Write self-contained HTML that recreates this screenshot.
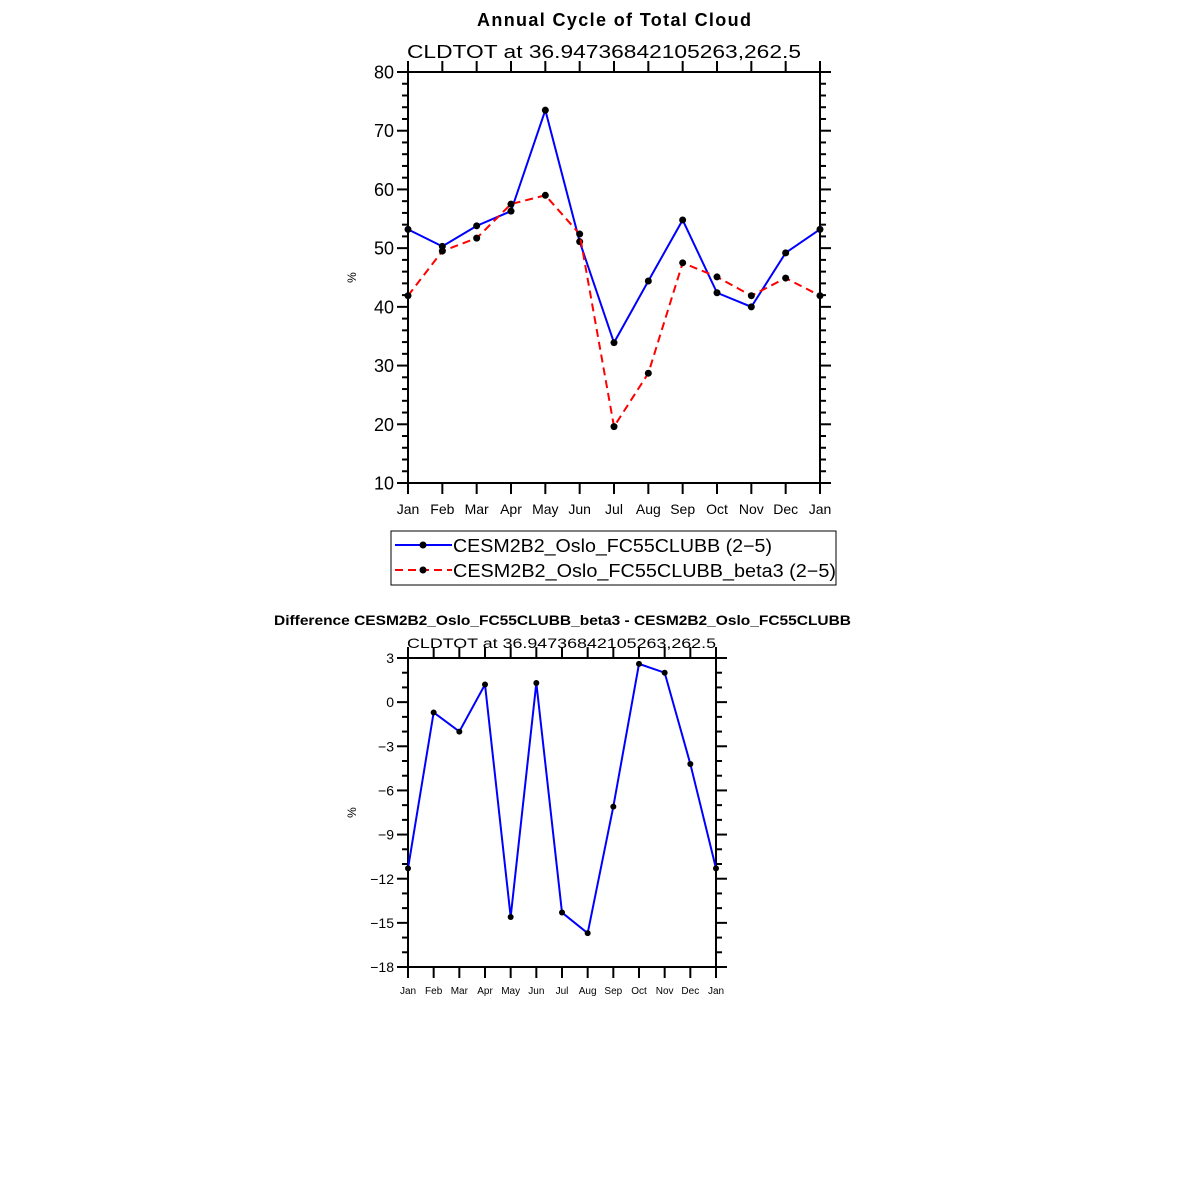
<!DOCTYPE html>
<html><head><meta charset="utf-8"><style>
body{margin:0;background:#fff;width:1183px;height:1183px;overflow:hidden}
svg{display:block}
text{font-family:"Liberation Sans","DejaVu Sans",sans-serif;fill:#000}
</style></head><body>
<svg id="s" width="1183" height="1183">
<text x="614" y="26" font-size="18" font-weight="bold" text-anchor="middle" textLength="274">Annual Cycle of Total Cloud</text>
<text x="407" y="58" font-size="18" textLength="394" lengthAdjust="spacingAndGlyphs">CLDTOT  at  36.94736842105263,262.5</text>
<text x="274" y="625" font-size="14" font-weight="bold" textLength="577" lengthAdjust="spacingAndGlyphs">Difference CESM2B2_Oslo_FC55CLUBB_beta3 - CESM2B2_Oslo_FC55CLUBB</text>
<text x="407" y="648" font-size="14" textLength="309" lengthAdjust="spacingAndGlyphs">CLDTOT  at  36.94736842105263,262.5</text>
<g>
<rect x="391" y="531" width="445" height="54" fill="#fff" stroke="#000" stroke-width="1"/>
<line x1="395" y1="545" x2="452" y2="545" stroke="#0000ff" stroke-width="2"/>
<circle cx="423" cy="545" r="3.5" fill="#000"/>
<text x="453" y="552" font-size="18" textLength="319" lengthAdjust="spacingAndGlyphs">CESM2B2_Oslo_FC55CLUBB (2−5)</text>
<line x1="395" y1="570" x2="452" y2="570" stroke="#ff0000" stroke-width="2" stroke-dasharray="8,5"/>
<circle cx="423" cy="570" r="3.5" fill="#000"/>
<text x="453" y="577" font-size="18" textLength="383" lengthAdjust="spacingAndGlyphs">CESM2B2_Oslo_FC55CLUBB_beta3 (2−5)</text>
</g>
</svg>
<script>
const months=["Jan","Feb","Mar","Apr","May","Jun","Jul","Aug","Sep","Oct","Nov","Dec","Jan"];
const baseVals=[53.2,50.3,53.8,56.3,73.5,51.1,33.9,44.4,54.8,42.4,40.0,49.2,53.2];
const beta3Vals=[41.9,49.5,51.7,57.5,59.0,52.4,19.6,28.7,47.5,45.1,41.9,44.9,41.9];
const diffVals=[-11.3,-0.7,-2.0,1.2,-14.6,1.3,-14.3,-15.7,-7.1,2.6,2.0,-4.2,-11.3];
const topTicks=[10,20,30,40,50,60,70,80];
const botTicks=[-18,-15,-12,-9,-6,-3,0,3];
const NS="http://www.w3.org/2000/svg",svg=document.getElementById('s');
function mk(t,a,p){const e=document.createElementNS(NS,t);for(const k in a)e.setAttribute(k,a[k]);(p||svg).appendChild(e);return e;}
function panel(o){
  const g=mk('g',{});
  
  
  const xs=i=>o.x0+(o.x1-o.x0)*i/(months.length-1);
  const ys=v=>o.y1-(v-o.vmin)/(o.vmax-o.vmin)*(o.y1-o.y0);
  mk('rect',{x:o.x0,y:o.y0,width:o.x1-o.x0,height:o.y1-o.y0,fill:'none',stroke:'#000','stroke-width':2},g);
  for(let v=o.vmin;v<=o.vmax+1e-9;v+=o.minor){
    const y=ys(v);const major=o.ticks.some(t=>Math.abs(t-v)<1e-6);const L=major?11:6;
    mk('line',{x1:o.x0-L,y1:y,x2:o.x0,y2:y,stroke:'#000','stroke-width':2},g);
    mk('line',{x1:o.x1,y1:y,x2:o.x1+L,y2:y,stroke:'#000','stroke-width':2},g);
  }
  o.ticks.forEach(v=>{const t=mk('text',{x:o.x0-14,y:ys(v)+o.fs*0.36,'font-size':o.fs,'text-anchor':'end'},g);t.textContent=String(v).replace('-','−');
    
    });
  months.forEach((m,i)=>{const x=xs(i);
    mk('line',{x1:x,y1:o.y0-11,x2:x,y2:o.y0,stroke:'#000','stroke-width':2},g);
    mk('line',{x1:x,y1:o.y1,x2:x,y2:o.y1+11,stroke:'#000','stroke-width':2},g);
    const t=mk('text',{x:x,y:o.y1+o.xfs+17,'font-size':o.xfs,'text-anchor':'middle'},g);t.textContent=m;
    
    });
  const yl=mk('text',{x:0,y:0,'font-size':12,'text-anchor':'middle',transform:`translate(${o.x0-52},${(o.y0+o.y1)/2}) rotate(-90)`},g);yl.textContent='%';
  
  
  o.series.forEach(s=>{
    const pl=mk('polyline',{points:s.vals.map((v,i)=>xs(i)+','+ys(v)).join(' '),fill:'none',stroke:s.color,'stroke-width':2,'stroke-dasharray':s.dash||'none'},g);
    
    
    s.vals.forEach((v,i)=>{const c=mk('circle',{cx:xs(i),cy:ys(v),r:o.r,fill:'#000'},g);
      
      });
  });
}
panel({name:'top-chart',x0:408,x1:820,y0:72,y1:483,vmin:10,vmax:80,minor:2,ticks:topTicks,fs:18,xfs:14,r:3.5,
  series:[{name:'base',vals:baseVals,color:'#0000ff'},{name:'beta3',vals:beta3Vals,color:'#ff0000',dash:'8,5'}]});
panel({name:'bottom-chart',x0:408,x1:716,y0:658,y1:967,vmin:-18,vmax:3,minor:1,ticks:botTicks,fs:14,xfs:10,r:3,
  series:[{name:'diff',vals:diffVals,color:'#0000ff'}]});
</script>
</body></html>
